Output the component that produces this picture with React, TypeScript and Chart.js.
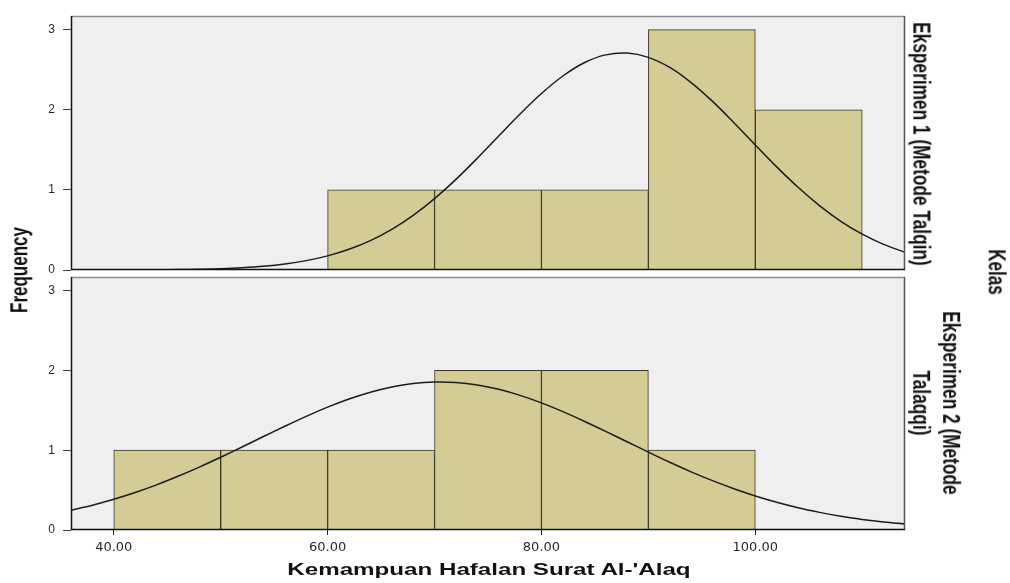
import React, { useEffect, useRef } from "react";
import { Chart, registerables } from "chart.js";

Chart.register(...registerables);

// ---------- data ----------
const xTickValues = [40, 60, 80, 100];
const yTickValues = [0, 1, 2, 3];

// histogram bins (bin centres, width 10) and frequencies
const talqinBins = [65, 75, 85, 95, 105];
const talqinFreq = [1, 1, 1, 3, 2];

const talaqqiBins = [45, 55, 65, 75, 85, 95];
const talaqqiFreq = [1, 1, 1, 2, 2, 1];

// normal curves
const curveX = [
  36, 38, 40, 42, 44, 46, 48, 50, 52, 54, 56, 58, 60, 62, 64, 66, 68, 70, 72, 74,
  76, 78, 80, 82, 84, 86, 88, 90, 92, 94, 96, 98, 100, 102, 104, 106, 108, 110, 112, 114,
];
const talqinCurve = [
  0.0002, 0.0004, 0.0008, 0.0015, 0.003, 0.005, 0.01, 0.017, 0.029, 0.047,
  0.075, 0.117, 0.176, 0.258, 0.367, 0.507, 0.682, 0.891, 1.131, 1.395,
  1.672, 1.947, 2.202, 2.421, 2.587, 2.685, 2.708, 2.654, 2.528, 2.339,
  2.104, 1.838, 1.56, 1.287, 1.032, 0.804, 0.608, 0.447, 0.32, 0.222,
];
const talaqqiCurve = [
  0.248, 0.311, 0.385, 0.47, 0.566, 0.673, 0.788, 0.912, 1.04, 1.171,
  1.3, 1.424, 1.54, 1.642, 1.727, 1.793, 1.836, 1.854, 1.848, 1.817,
  1.763, 1.687, 1.593, 1.483, 1.363, 1.236, 1.106, 0.976, 0.849, 0.729,
  0.618, 0.517, 0.426, 0.347, 0.278, 0.221, 0.172, 0.133, 0.101, 0.076,
];

const X_MIN = 36;
const X_MAX = 114;
const Y_MAX = 3.17;

// ---------- styles ----------
const PANEL_BG = "#efefef";
const BAR_FILL = "#d3cd95";
const BAR_EDGE = "#3a3826";
const CURVE = "#1c1c1c";
const TEXT_FONT = '"Liberation Sans", Arial, sans-serif';

const framePlugin = {
  id: "panelFrame",
  beforeDatasetsDraw(chart: any) {
    const { ctx, chartArea: a } = chart;
    ctx.save();
    ctx.fillStyle = PANEL_BG;
    ctx.fillRect(a.left, a.top, a.right - a.left, a.bottom - a.top);
    ctx.restore();
  },
  afterDatasetsDraw(chart: any) {
    const { ctx, chartArea: a } = chart;
    ctx.save();
    ctx.lineWidth = 1.5;
    ctx.strokeStyle = "#8c8c8c";
    ctx.beginPath();
    ctx.moveTo(a.left, a.top + 0.5);
    ctx.lineTo(a.right, a.top + 0.5);
    ctx.stroke();
    ctx.strokeStyle = "#555555";
    ctx.beginPath();
    ctx.moveTo(a.right - 0.5, a.top);
    ctx.lineTo(a.right - 0.5, a.bottom);
    ctx.stroke();
    ctx.strokeStyle = "#111111";
    ctx.beginPath();
    ctx.moveTo(a.left + 0.5, a.top);
    ctx.lineTo(a.left + 0.5, a.bottom);
    ctx.moveTo(a.left, a.bottom - 0.5);
    ctx.lineTo(a.right, a.bottom - 0.5);
    ctx.stroke();
    ctx.restore();
  },
};

function makeConfig(
  bins: number[],
  freq: number[],
  curve: number[],
  showX: boolean,
  padTop: number,
  padBottom: number
): any {
  return {
    type: "bar",
    data: {
      datasets: [
        {
          type: "line",
          data: curveX.map((x, i) => ({ x, y: curve[i] })),
          borderColor: CURVE,
          borderWidth: 1.5,
          pointRadius: 0,
          tension: 0.35,
          fill: false,
          order: 0,
        },
        {
          type: "bar",
          data: bins.map((x, i) => ({ x, y: freq[i] })),
          backgroundColor: BAR_FILL,
          borderColor: BAR_EDGE,
          borderWidth: 1,
          barPercentage: 1,
          categoryPercentage: 1,
          order: 1,
        },
      ],
    },
    options: {
      animation: false,
      responsive: false,
      devicePixelRatio: 1,
      layout: { padding: { left: 0, right: 105, top: padTop, bottom: padBottom } },
      plugins: { legend: { display: false }, tooltip: { enabled: false } },
      scales: {
        x: {
          type: "linear",
          min: X_MIN,
          max: X_MAX,
          offset: false,
          afterBuildTicks: (s: any) => {
            s.ticks = xTickValues.map((v) => ({ value: v }));
          },
          afterFit: (s: any) => {
            s.height = showX ? 53 : 0;
            s.paddingLeft = 0;
            s.paddingRight = 0;
            s.paddingTop = 0;
            s.paddingBottom = 0;
          },
          ticks: {
            display: showX,
            padding: 5,
            color: "#2a2a2a",
            font: { family: '"DejaVu Sans", sans-serif', size: 13 },
            maxRotation: 0,
            callback: (v: any) => Number(v).toFixed(2),
          },
          grid: {
            display: showX,
            offset: false,
            drawOnChartArea: false,
            drawTicks: true,
            tickLength: 5,
            color: "#222",
          },
          border: { display: false },
        },
        y: {
          type: "linear",
          min: 0,
          max: Y_MAX,
          afterBuildTicks: (s: any) => {
            s.ticks = yTickValues.map((v) => ({ value: v }));
          },
          afterFit: (s: any) => {
            s.width = 71;
            s.paddingLeft = 0;
            s.paddingRight = 0;
            s.paddingTop = 0;
            s.paddingBottom = 0;
          },
          ticks: {
            padding: 8,
            color: "#2a2a2a",
            font: { family: TEXT_FONT, size: 12 },
            callback: (v: any) => String(v),
          },
          grid: {
            drawOnChartArea: false,
            drawTicks: true,
            tickLength: 8,
            color: "#444",
          },
          border: { display: false },
        },
      },
    },
    plugins: [framePlugin],
  };
}

function Panel(props: {
  top: number;
  height: number;
  bins: number[];
  freq: number[];
  curve: number[];
  showX: boolean;
  padTop: number;
  padBottom: number;
}) {
  const ref = useRef<HTMLCanvasElement | null>(null);
  useEffect(() => {
    if (!ref.current) return;
    const chart = new Chart(
      ref.current,
      makeConfig(props.bins, props.freq, props.curve, props.showX, props.padTop, props.padBottom)
    );
    return () => chart.destroy();
  }, []);
  return (
    <canvas
      ref={ref}
      width={1010}
      height={props.height}
      style={{ position: "absolute", left: 0, top: props.top, width: 1010, height: props.height }}
    />
  );
}

function Label(props: {
  cx: number;
  cy: number;
  rotate: number;
  stretch: number;
  size: number;
  lineHeight?: number;
  children: React.ReactNode;
}) {
  return (
    <div style={{ position: "absolute", left: props.cx, top: props.cy, width: 0, height: 0 }}>
      <div
        style={{
          position: "absolute",
          left: 0,
          top: 0,
          whiteSpace: "nowrap",
          textAlign: "center",
          fontFamily: TEXT_FONT,
          fontWeight: "bold",
          fontSize: props.size,
          lineHeight: (props.lineHeight ?? Math.round(props.size * 1.2)) + "px",
          color: "#111",
          transform: `translate(-50%, -50%) scaleX(${props.stretch}) rotate(${props.rotate}deg)`,
        }}
      >
        {props.children}
      </div>
    </div>
  );
}

export default function App() {
  return (
    <div
      style={{
        position: "absolute",
        left: 0,
        top: 0,
        width: 1010,
        height: 583,
        background: "#ffffff",
        overflow: "hidden",
      }}
    >
      <Panel top={0} height={275} bins={talqinBins} freq={talqinFreq} curve={talqinCurve} showX={false} padTop={16} padBottom={5} />
      <Panel top={275} height={308} bins={talaqqiBins} freq={talaqqiFreq} curve={talaqqiCurve} showX={true} padTop={2} padBottom={0} />

      <Label cx={20} cy={270} rotate={-90} stretch={1.37} size={17}>Frequency</Label>
      <Label cx={489} cy={570} rotate={0} stretch={1.42} size={17}>Kemampuan Hafalan Surat Al-'Alaq</Label>
      <Label cx={921} cy={144} rotate={90} stretch={1.37} size={17.3}>Eksperimen 1 (Metode Talqin)</Label>
      <Label cx={936} cy={403} rotate={90} stretch={1.37} size={17.3} lineHeight={22}>
        Eksperimen 2 (Metode
        <br />
        Talaqqi)
      </Label>
      <Label cx={996} cy={272} rotate={90} stretch={1.37} size={17}>Kelas</Label>
    </div>
  );
}
